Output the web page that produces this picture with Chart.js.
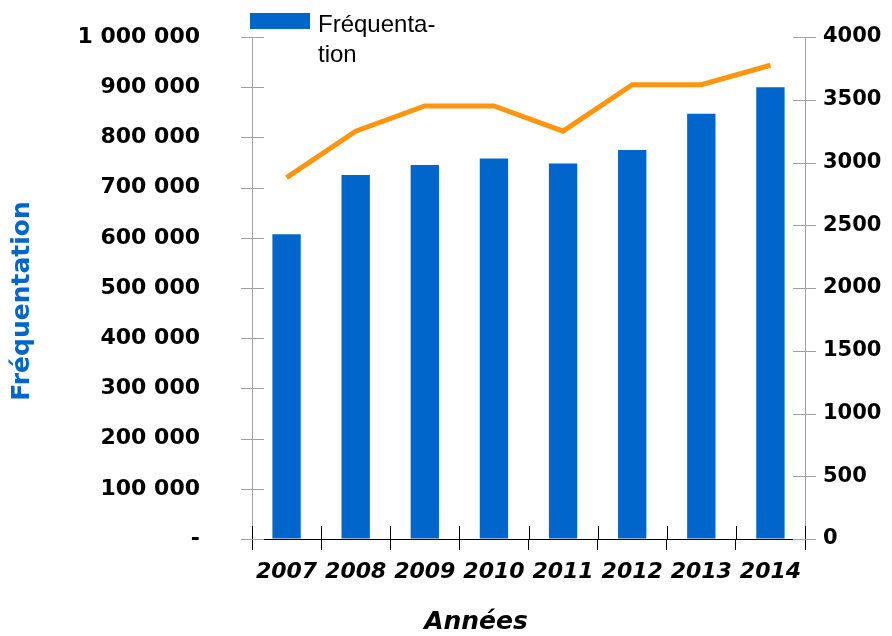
<!DOCTYPE html>
<html>
<head>
<meta charset="utf-8">
<script src="https://cdn.jsdelivr.net/npm/chart.js@4.4.1/dist/chart.umd.min.js"></script>
<style>
  html, body { margin: 0; padding: 0; background: #fff; }
  #wrap { width: 892px; height: 636px; }
</style>
</head>
<body>
<div id="wrap"><canvas id="chart" width="892" height="636"></canvas></div>
<script>
// Chart data
const years = ['2007', '2008', '2009', '2010', '2011', '2012', '2013', '2014'];
const frequentation = [607000, 725000, 745000, 758000, 748000, 775000, 847000, 900000];
const rightSeries = [2880, 3250, 3450, 3450, 3250, 3620, 3620, 3775];
const legendLines = ['Fréquenta-', 'tion'];
const xTitle = 'Années';
const yTitle = 'Fréquentation';

const BLUE = '#0066cc';
const ORANGE = '#ff950e';
const AXIS_GREY = '#a0a0a0';

function formatThousands(v) {
    if (v === 0) return '-';
    return String(v).replace(/\B(?=(\d{3})+(?!\d))/g, ' ');
}

// tick marks crossing the axes, the legend and both axis titles
const extrasPlugin = {
    id: 'extras',
    afterDraw(chart) {
        const ctx = chart.ctx;
        const sx = chart.scales.x, sy = chart.scales.y, sy1 = chart.scales.y1;
        const ca = chart.chartArea;
        ctx.save();
        ctx.lineWidth = 1;
        ctx.strokeStyle = AXIS_GREY;
        sy.ticks.forEach((t, i) => {
            const py = Math.round(sy.getPixelForTick(i)) + 0.5;
            ctx.beginPath();
            ctx.moveTo(ca.left - 11, py);
            ctx.lineTo(ca.left + 12, py);
            ctx.stroke();
        });
        sy1.ticks.forEach((t, i) => {
            const py = Math.round(sy1.getPixelForTick(i)) + 0.5;
            ctx.beginPath();
            ctx.moveTo(ca.right - 12, py);
            ctx.lineTo(ca.right + 11, py);
            ctx.stroke();
        });
        ctx.strokeStyle = '#000';
        for (let i = 0; i <= years.length; i++) {
            const px = Math.round(sx.getPixelForValue(i - 0.5)) + 0.5;
            ctx.beginPath();
            ctx.moveTo(px, sx.top - 13);
            ctx.lineTo(px, sx.top);
            ctx.stroke();
        }

        // legend (bar series only)
        ctx.fillStyle = BLUE;
        ctx.fillRect(250, 13, 60, 16);
        ctx.fillStyle = '#000';
        ctx.font = '24px "Liberation Sans", Arial, sans-serif';
        ctx.textAlign = 'left';
        ctx.textBaseline = 'alphabetic';
        ctx.fillText(legendLines[0], 318, 32);
        ctx.fillText(legendLines[1], 318, 62);

        // x axis title
        ctx.font = 'italic bold 25px "DejaVu Sans", sans-serif';
        ctx.textAlign = 'center';
        ctx.textBaseline = 'middle';
        ctx.fillText(xTitle, 476, 622);

        // y axis title
        ctx.translate(22, 301);
        ctx.rotate(-Math.PI / 2);
        ctx.fillStyle = BLUE;
        ctx.font = 'bold 25px "DejaVu Sans", sans-serif';
        ctx.fillText(yTitle, 0, 0);
        ctx.restore();
    }
};

const ctx = document.getElementById('chart').getContext('2d');
new Chart(ctx, {
    type: 'bar',
    data: {
        labels: years,
        datasets: [
            {
                type: 'line',
                data: rightSeries,
                yAxisID: 'y1',
                borderColor: ORANGE,
                borderWidth: 5,
                pointRadius: 0,
                tension: 0,
                order: 0
            },
            {
                type: 'bar',
                data: frequentation,
                yAxisID: 'y',
                backgroundColor: BLUE,
                borderWidth: 0,
                categoryPercentage: 1,
                barPercentage: 0.41,
                order: 1
            }
        ]
    },
    options: {
        responsive: false,
        animation: false,
        layout: { padding: { top: 37, right: 0, left: 0, bottom: 0 } },
        plugins: {
            legend: { display: false },
            tooltip: { enabled: false }
        },
        scales: {
            x: {
                offset: true,
                grid: { offset: true, drawOnChartArea: false, drawTicks: true, tickLength: 11, color: '#000' },
                border: { color: '#000' },
                ticks: {
                    color: '#000',
                    padding: 9,
                    maxRotation: 0,
                    font: { family: 'DejaVu Sans', size: 22, weight: 'bold', style: 'italic' }
                },
                afterFit(scale) { scale.height = 97; }
            },
            y: {
                position: 'left',
                min: 0,
                max: 1000000,
                grid: { drawOnChartArea: false, tickLength: 52, tickColor: 'rgba(0,0,0,0)' },
                border: { color: AXIS_GREY },
                ticks: {
                    stepSize: 100000,
                    color: '#000',
                    padding: 0,
                    font: { family: 'DejaVu Sans', size: 22, weight: 'bold' },
                    callback: v => formatThousands(v)
                },
                afterFit(scale) { scale.width = 252; }
            },
            y1: {
                position: 'right',
                min: 0,
                max: 4000,
                grid: { drawOnChartArea: false, tickLength: 18, tickColor: 'rgba(0,0,0,0)' },
                border: { color: AXIS_GREY },
                ticks: {
                    stepSize: 500,
                    color: '#000',
                    padding: 0,
                    font: { family: 'DejaVu Sans', size: 21, weight: 'bold' },
                    callback: v => String(v)
                },
                afterFit(scale) { scale.width = 87; }
            }
        }
    },
    plugins: [extrasPlugin]
});
</script>
</body>
</html>
